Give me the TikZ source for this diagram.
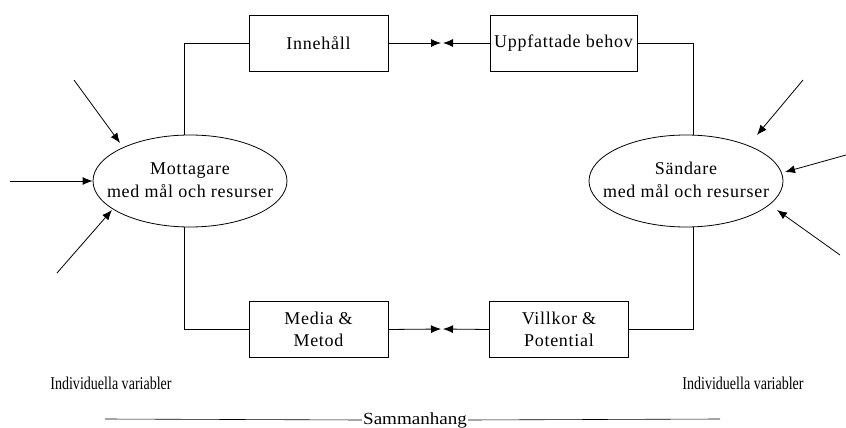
\documentclass[tikz,border=0pt]{standalone}
\usepackage{fontspec}
\setmainfont{Liberation Serif}
\newfontfamily\spacedserif[LetterSpace=4]{Liberation Serif}
\newfontfamily\narrowserif[FakeStretch=0.78]{Liberation Serif}
\newfontfamily\wideserif[FakeStretch=1.12]{Liberation Serif}
\usetikzlibrary{shapes.geometric,arrows.meta,calc}
\newcommand{\partytext}[2]{\makebox[0pt]{\begin{tabular}{@{}c@{}}#1\\#2\end{tabular}}}
\tikzset{
  box/.style={draw, line width=0.8pt, minimum width=139pt, minimum height=56pt, inner sep=2pt, align=center, font=\spacedserif\fontsize{18}{22}\selectfont},
  party/.style={draw, ellipse, line width=0.8pt, minimum width=194pt, minimum height=92pt, inner sep=0pt, font=\spacedserif\fontsize{18}{23}\selectfont},
  link/.style={line width=0.8pt},
  tip/.style={line width=0.8pt, -{Latex[length=10pt,width=8pt]}},
  note/.style={font=\narrowserif\fontsize{18}{20}\selectfont, inner sep=0pt}
}
\begin{document}
\begin{tikzpicture}[x=1pt,y=-1pt]
\useasboundingbox (0,0) rectangle (846,428);

% the four boxes
\node[box] (inn) at (318.5,43) {Innehåll};
\node[box, minimum width=147pt] (upp) at (563.5,43) {Uppfattade behov};
\node[box] (med) at (318.5,329.5) {Media \&\\Metod};
\node[box] (vil) at (559,329.5) {Villkor \&\\Potential};

% the two parties
\node[party] (mot) at (190,181) {\partytext{Mottagare}{med mål och resurser}};
\node[party] (san) at (686,181) {\partytext{Sändare}{med mål och resurser}};

% meeting points of the arrows between the boxes
\coordinate (mtop) at (442,43);
\coordinate (mbot) at (442,329);

% loop linking the parties through the boxes
\draw[link] ($(mot.north)+(-6,0)$) |- (inn.west);
\draw[link] ($(mot.south)+(-6,0)$) |- (med.west);
\draw[link] ($(san.north)+(7,0)$) |- (upp.east);
\draw[link] ($(san.south)+(7,0)$) |- (vil.east);
\draw[tip] (inn.east) -- ($(mtop)+(-1,0)$);
\draw[tip] (upp.west) -- ($(mtop)+(1,0)$);
\draw[tip] (med.east) -- ($(mbot)+(-1,0)$);
\draw[tip] (vil.west) -- ($(mbot)+(1,0)$);

% individual variables acting on the receiver
\coordinate (l1) at (74,80);
\coordinate (l2) at (10,181);
\coordinate (l3) at (57,273);
\draw[tip] (l1) -- (120,143);
\draw[tip] (l2) -- (mot.west);
\draw[tip] (l3) -- (112,210);

% individual variables acting on the sender
\coordinate (r1) at (803,80);
\coordinate (r2) at (846,155);
\coordinate (r3) at (840,255);
\draw[tip] (r1) -- (757,135);
\draw[tip] (r2) -- (785,172);
\draw[tip] (r3) -- (777,210);

% labels and context line
\node[note] (ivl) at (111,383) {Individuella variabler};
\node[note] (ivr) at (743,383) {Individuella variabler};
\node[note, font=\wideserif\fontsize{17}{20}\selectfont, inner xsep=1pt] (sam) at (415,420) {Sammanhang};
\coordinate (sl) at (105,419);
\coordinate (sr) at (720,419);
\draw[line width=0.6pt] (sl) -- (sam.west);
\draw[line width=0.6pt] (sam.east) -- (sr);
\end{tikzpicture}
\end{document}
